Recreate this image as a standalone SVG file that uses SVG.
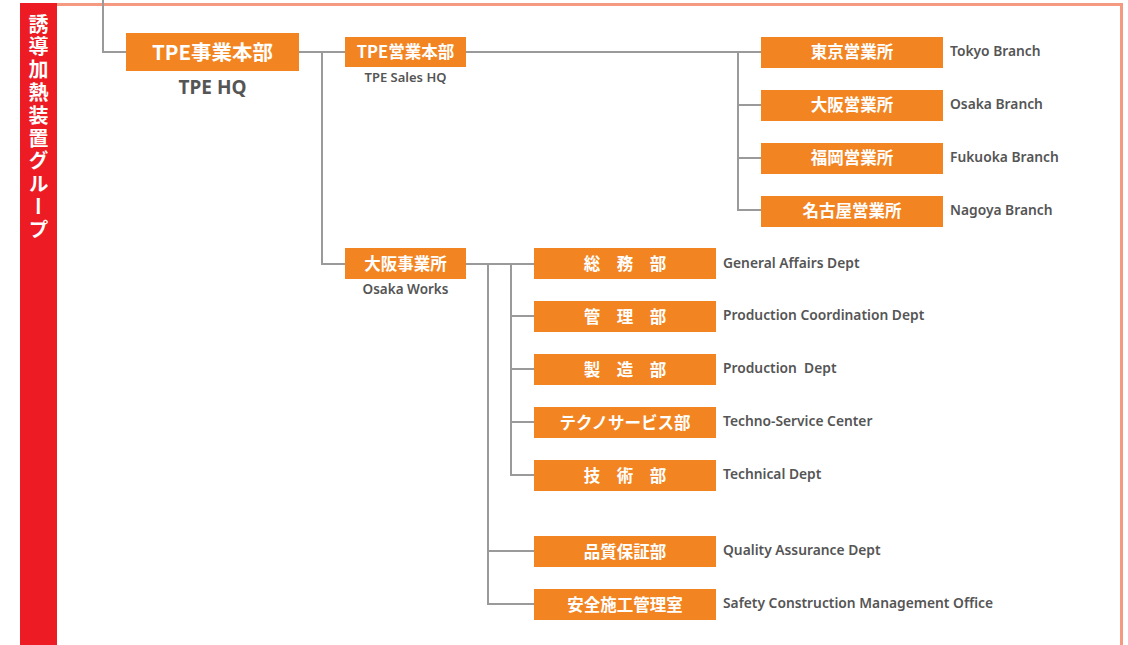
<svg xmlns="http://www.w3.org/2000/svg" width="1128" height="645" viewBox="0 0 1128 645">
<style>
.box{fill:#F28522}
.bt{font-family:"Noto Sans CJK JP","Noto Sans",sans-serif;font-weight:700;fill:#fff;text-anchor:middle;font-size:16.5px}
.lb{font-family:"Noto Sans","Open Sans",sans-serif;font-weight:600;fill:#555;font-size:13.8px}
.cn{fill:none;stroke:#9a9a9a;stroke-width:2}
</style>
<rect x="0" y="0" width="1128" height="645" fill="#fff"/>
<path d="M57 4.5 H1121.5 V645" fill="none" stroke="#F59A80" stroke-width="3"/>
<g id="group-bar">
<rect x="20" y="3" width="37" height="642" fill="#ED1C24"/>
<text x="38.5" y="14" writing-mode="vertical-rl" font-family="Noto Sans CJK JP, sans-serif" font-weight="700" font-size="20" fill="#fff" letter-spacing="2.8">誘導加熱装置グループ</text>
</g>
<g id="connectors" class="cn">
<path d="M103 0 V52 H126"/>
<path d="M299 52 H345"/>
<path d="M322 52 V264 H345"/>
<path d="M466 52 H761"/>
<path d="M738 52 V210 H761"/>
<path d="M738 105 H761"/>
<path d="M738 158 H761"/>
<path d="M466 264 H534"/>
<path d="M511 264 V475 H534"/>
<path d="M511 316 H534"/>
<path d="M511 369 H534"/>
<path d="M511 422 H534"/>
<path d="M488 264 V604 H534"/>
<path d="M488 551 H534"/>
</g>
<g id="tpe-hq">
<rect class="box" x="126" y="33" width="173" height="38"/>
<text class="bt" x="212.5" y="59.5" style="font-size:20.5px">TPE事業本部</text>
<text x="212.5" y="94" text-anchor="middle" font-family="Noto Sans, sans-serif" font-weight="700" font-size="19" fill="#555">TPE HQ</text>
</g>
<g id="sales-hq">
<rect class="box" x="345" y="37" width="121" height="30"/>
<text class="bt" x="405.5" y="58">TPE営業本部</text>
<text class="lb" x="405.5" y="82" text-anchor="middle" style="font-size:13px">TPE Sales HQ</text>
</g>
<g id="tokyo">
<rect class="box" x="761" y="37" width="182" height="31"/>
<text class="bt" x="852" y="58">東京営業所</text>
<text class="lb" x="950" y="56">Tokyo Branch</text>
</g>
<g id="osaka-branch">
<rect class="box" x="761" y="90" width="182" height="31"/>
<text class="bt" x="852" y="111">大阪営業所</text>
<text class="lb" x="950" y="109">Osaka Branch</text>
</g>
<g id="fukuoka">
<rect class="box" x="761" y="143" width="182" height="31"/>
<text class="bt" x="852" y="164">福岡営業所</text>
<text class="lb" x="950" y="162">Fukuoka Branch</text>
</g>
<g id="nagoya">
<rect class="box" x="761" y="196" width="182" height="31"/>
<text class="bt" x="852" y="217">名古屋営業所</text>
<text class="lb" x="950" y="215">Nagoya Branch</text>
</g>
<g id="osaka-works">
<rect class="box" x="345" y="248" width="121" height="31"/>
<text class="bt" x="405.5" y="270">大阪事業所</text>
<text class="lb" x="405.5" y="294" text-anchor="middle" style="font-size:13.5px">Osaka Works</text>
</g>
<g id="general-affairs">
<rect class="box" x="534" y="248" width="182" height="31"/>
<text class="bt" x="625" y="270">総　務　部</text>
<text class="lb" x="723" y="268">General Affairs Dept</text>
</g>
<g id="prod-coord">
<rect class="box" x="534" y="301" width="182" height="31"/>
<text class="bt" x="625" y="323">管　理　部</text>
<text class="lb" x="723" y="320">Production Coordination Dept</text>
</g>
<g id="production">
<rect class="box" x="534" y="354" width="182" height="31"/>
<text class="bt" x="625" y="376">製　造　部</text>
<text class="lb" x="723" y="373" xml:space="preserve">Production  Dept</text>
</g>
<g id="techno-service">
<rect class="box" x="534" y="407" width="182" height="31"/>
<text class="bt" x="625" y="429">テクノサービス部</text>
<text class="lb" x="723" y="426">Techno-Service Center</text>
</g>
<g id="technical">
<rect class="box" x="534" y="460" width="182" height="31"/>
<text class="bt" x="625" y="482">技　術　部</text>
<text class="lb" x="723" y="479">Technical Dept</text>
</g>
<g id="quality">
<rect class="box" x="534" y="536" width="182" height="31"/>
<text class="bt" x="625" y="558">品質保証部</text>
<text class="lb" x="723" y="555">Quality Assurance Dept</text>
</g>
<g id="safety">
<rect class="box" x="534" y="589" width="182" height="31"/>
<text class="bt" x="625" y="611">安全施工管理室</text>
<text class="lb" x="723" y="608">Safety Construction Management Office</text>
</g>
</svg>
